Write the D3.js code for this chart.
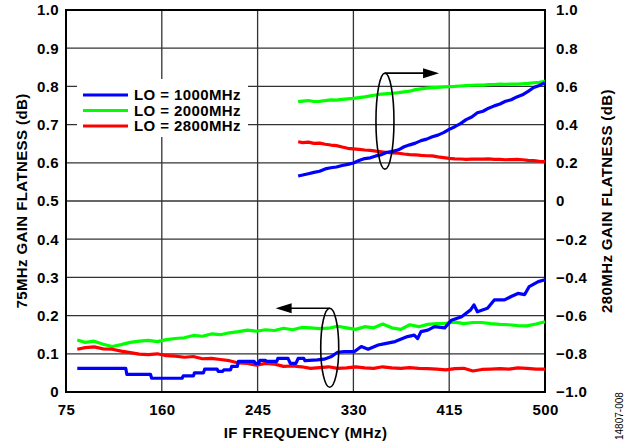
<!DOCTYPE html>
<html>
<head>
<meta charset="utf-8">
<script src="https://cdnjs.cloudflare.com/ajax/libs/d3/7.8.5/d3.min.js"></script>
<style>
  body { margin: 0; background: #fff; }
  svg text { font-family: "Liberation Sans", Arial, Helvetica, sans-serif; font-weight: bold; fill: #000; }
</style>
</head>
<body>
<div id="chart"></div>
<script>
// x ticks / labels
var xTicks = [75, 160, 245, 330, 415, 500];
var yLeftTicks = [0, 0.1, 0.2, 0.3, 0.4, 0.5, 0.6, 0.7, 0.8, 0.9, 1.0];
var yLeftLabels = ['0', '0.1', '0.2', '0.3', '0.4', '0.5', '0.6', '0.7', '0.8', '0.9', '1.0'];
var yRightTicks = [-1, -0.8, -0.6, -0.4, -0.2, 0, 0.2, 0.4, 0.6, 0.8, 1.0];
var yRightLabels = ['\u22121.0', '\u22120.8', '\u22120.6', '\u22120.4', '\u22120.2', '0', '0.2', '0.4', '0.6', '0.8', '1.0'];

var seriesNames = ['LO = 1000MHz', 'LO = 2000MHz', 'LO = 2800MHz'];
var seriesColors = ['#0000ff', '#00ff00', '#ff0000'];

// 75MHz flatness (left axis)
var freqLeft = [85, 92, 100, 108, 116, 124, 132, 140, 148, 156, 164, 172, 180, 188, 196, 204, 212, 220, 228, 236,
  244, 252, 260, 268, 276, 284, 292, 300, 308, 316, 324, 332, 340, 348, 356, 364, 372, 380, 388, 396,
  404, 412, 420, 428, 436, 444, 452, 460, 468, 476, 484, 492, 500];
var green75 = [0.136, 0.130, 0.133, 0.125, 0.119, 0.124, 0.130, 0.133, 0.135, 0.132, 0.137, 0.140, 0.142, 0.148, 0.146, 0.152, 0.150, 0.155, 0.158, 0.162,
  0.159, 0.163, 0.161, 0.167, 0.163, 0.169, 0.168, 0.166, 0.167, 0.172, 0.168, 0.164, 0.171, 0.168, 0.178, 0.168, 0.164, 0.176, 0.171, 0.177,
  0.179, 0.180, 0.183, 0.179, 0.182, 0.182, 0.179, 0.177, 0.176, 0.174, 0.173, 0.178, 0.184];
var red75 = [0.112, 0.116, 0.118, 0.113, 0.112, 0.107, 0.103, 0.099, 0.098, 0.100, 0.095, 0.094, 0.091, 0.093, 0.087, 0.088, 0.085, 0.082, 0.076, 0.075,
  0.070, 0.075, 0.073, 0.067, 0.068, 0.066, 0.062, 0.064, 0.066, 0.062, 0.063, 0.066, 0.063, 0.062, 0.066, 0.063, 0.062, 0.064, 0.062, 0.061,
  0.060, 0.058, 0.061, 0.062, 0.055, 0.059, 0.060, 0.061, 0.060, 0.063, 0.062, 0.060, 0.060];
// blue is step-like at the low end, so it has its own frequencies
var freqBlue75 = [85, 128, 129, 150, 151, 178, 179, 188, 189, 197, 198, 209, 210, 214, 215, 221, 222, 227, 228, 242,
  243, 246, 247, 252, 253, 262, 263, 272, 274, 279, 281, 286,
  287, 298, 304, 310, 316, 322, 331, 337, 343, 352, 357, 367, 378, 384, 387, 390, 396, 402,
  411, 417, 426, 434, 437, 440, 449, 455, 464, 470, 476, 482, 486, 494, 500];
var blue75 = [0.062, 0.062, 0.046, 0.046, 0.036, 0.036, 0.042, 0.042, 0.050, 0.050, 0.060, 0.060, 0.054, 0.054, 0.058, 0.058, 0.067, 0.067, 0.080, 0.080,
  0.075, 0.075, 0.083, 0.083, 0.080, 0.080, 0.088, 0.088, 0.075, 0.075, 0.088, 0.088,
  0.082, 0.084, 0.086, 0.092, 0.104, 0.106, 0.106, 0.119, 0.112, 0.123, 0.126, 0.132, 0.145, 0.149, 0.140, 0.158, 0.162, 0.171,
  0.168, 0.188, 0.197, 0.215, 0.228, 0.210, 0.219, 0.241, 0.241, 0.250, 0.258, 0.255, 0.276, 0.289, 0.294];

// 280MHz flatness (right axis)
var freqRight = [281, 285, 290, 295, 300, 305, 310, 315, 320, 325, 330, 335, 340, 345, 350,
  355, 360, 365, 370, 375, 380, 385, 390, 395, 400, 405, 410, 415, 420, 425,
  430, 435, 440, 445, 450, 455, 460, 465, 470, 475, 480, 485, 490, 495, 500];
var blue280 = [0.131, 0.136, 0.143, 0.150, 0.156, 0.168, 0.174, 0.178, 0.186, 0.192, 0.199, 0.212, 0.222, 0.226, 0.236,
  0.243, 0.255, 0.260, 0.268, 0.284, 0.294, 0.303, 0.316, 0.324, 0.336, 0.345, 0.358, 0.375, 0.389, 0.405,
  0.426, 0.440, 0.462, 0.470, 0.486, 0.498, 0.508, 0.522, 0.530, 0.545, 0.556, 0.574, 0.594, 0.605, 0.620];
var green280 = [0.520, 0.523, 0.526, 0.521, 0.522, 0.526, 0.529, 0.528, 0.532, 0.535, 0.537, 0.541, 0.545, 0.550, 0.555,
  0.560, 0.562, 0.564, 0.567, 0.571, 0.575, 0.583, 0.587, 0.591, 0.594, 0.595, 0.597, 0.599, 0.600, 0.602,
  0.604, 0.606, 0.607, 0.607, 0.609, 0.610, 0.612, 0.611, 0.612, 0.612, 0.614, 0.616, 0.619, 0.621, 0.626];
var red280 = [0.310, 0.306, 0.308, 0.302, 0.303, 0.297, 0.293, 0.290, 0.283, 0.276, 0.273, 0.270, 0.267, 0.265, 0.261,
  0.258, 0.254, 0.252, 0.250, 0.246, 0.243, 0.242, 0.239, 0.237, 0.236, 0.231, 0.227, 0.223, 0.221, 0.220,
  0.218, 0.219, 0.220, 0.219, 0.221, 0.218, 0.218, 0.216, 0.217, 0.218, 0.216, 0.213, 0.211, 0.208, 0.206];

var W = 631, H = 444;
// plot box (don't call these top/left: window.top is taken)
var pL = 66, pR = 545, pT = 10, pB = 392;

var svg = d3.select('#chart').append('svg')
  .attr('width', W)
  .attr('height', H);

var x = d3.scaleLinear().domain([75, 500]).range([pL, pR]);
var yL = d3.scaleLinear().domain([0, 1]).range([pB, pT]);
var yR = d3.scaleLinear().domain([-1, 1]).range([pB, pT]);

// grid
var grid = svg.append('g').attr('stroke', '#333').attr('stroke-width', 1.3);
grid.selectAll('line.v').data(xTicks).enter().append('line')
  .attr('x1', function (d) { return x(d); }).attr('x2', function (d) { return x(d); })
  .attr('y1', pT).attr('y2', pB);
grid.selectAll('line.h').data(yLeftTicks).enter().append('line')
  .attr('x1', pL).attr('x2', pR)
  .attr('y1', function (d) { return yL(d); }).attr('y2', function (d) { return yL(d); });

// legend box hides grid behind it
svg.append('rect').attr('x', 77).attr('y', 79).attr('width', 171).attr('height', 58).attr('fill', '#fff');

svg.append('rect')
  .attr('x', pL).attr('y', pT)
  .attr('width', pR - pL).attr('height', pB - pT)
  .attr('fill', 'none').attr('stroke', '#000').attr('stroke-width', 2);

// axes (labels only)
var fmtL = function (d, i) { return yLeftLabels[i]; };
var fmtR = function (d, i) { return yRightLabels[i]; };

var axL = svg.append('g').attr('transform', 'translate(' + pL + ',0)')
  .call(d3.axisLeft(yL).tickValues(yLeftTicks).tickFormat(fmtL).tickSize(0).tickPadding(7));
var axR = svg.append('g').attr('transform', 'translate(' + pR + ',0)')
  .call(d3.axisRight(yR).tickValues(yRightTicks).tickFormat(fmtR).tickSize(0).tickPadding(11));
var axX = svg.append('g').attr('transform', 'translate(0,' + pB + ')')
  .call(d3.axisBottom(x).tickValues(xTicks).tickFormat(d3.format('d')).tickSize(0).tickPadding(12));

[axL, axR, axX].forEach(function (a) {
  a.select('.domain').remove();
  a.selectAll('text')
    .style('font-family', '"Liberation Sans", Arial, sans-serif')
    .style('font-weight', 'bold')
    .style('font-size', '15px')
    .style('letter-spacing', '0.4px')
    .attr('fill', '#000');
});

// data lines
var lineL = function (xs) {
  return d3.line().x(function (d, i) { return x(xs[i]); }).y(function (d) { return yL(d); });
};
var lineR = d3.line().x(function (d, i) { return x(freqRight[i]); }).y(function (d) { return yR(d); });

var drawn = [
  { vals: green75, path: lineL(freqLeft), c: 1 },
  { vals: red75, path: lineL(freqLeft), c: 2 },
  { vals: blue75, path: lineL(freqBlue75), c: 0 },
  { vals: green280, path: lineR, c: 1 },
  { vals: red280, path: lineR, c: 2 },
  { vals: blue280, path: lineR, c: 0 }
];
drawn.forEach(function (s) {
  svg.append('path')
    .attr('d', s.path(s.vals))
    .attr('fill', 'none')
    .attr('stroke', seriesColors[s.c])
    .attr('stroke-width', 3.2)
    .attr('stroke-linejoin', 'round');
});

// ellipse + arrow annotations
function annot(cx, cy, ry, tipX, dir) {
  var ax = x(cx), ay = yL(cy), topY = ay - ry;
  svg.append('ellipse')
    .attr('cx', ax).attr('cy', ay).attr('rx', 9).attr('ry', ry)
    .attr('fill', 'none').attr('stroke', '#000').attr('stroke-width', 1.6);
  var tx = x(tipX);
  svg.append('line')
    .attr('x1', ax).attr('y1', topY).attr('x2', tx - dir * 14).attr('y2', topY)
    .attr('stroke', '#000').attr('stroke-width', 1.6);
  svg.append('path')
    .attr('d', 'M' + tx + ',' + topY + 'L' + (tx - dir * 16) + ',' + (topY - 5) + 'L' + (tx - dir * 16) + ',' + (topY + 5) + 'Z')
    .attr('fill', '#000');
}
annot(358, 0.709, 48, 406, 1);
annot(309, 0.116, 39.5, 261, -1);

// legend
var leg = svg.append('g');
seriesNames.forEach(function (name, i) {
  var ly = 95 + i * 15.5;
  leg.append('line').attr('x1', 83).attr('x2', 128).attr('y1', ly).attr('y2', ly)
    .attr('stroke', seriesColors[i]).attr('stroke-width', 3);
  leg.append('text').attr('x', 134).attr('y', ly + 5)
    .style('font-size', '15px').style('letter-spacing', '0.4px')
    .text(name);
});

// axis titles
svg.append('text')
  .attr('x', (pL + pR) / 2).attr('y', 438)
  .attr('text-anchor', 'middle')
  .style('font-size', '15px').style('letter-spacing', '0.4px')
  .text('IF FREQUENCY (MHz)');
svg.append('text')
  .attr('transform', 'translate(27,' + ((pT + pB) / 2) + ') rotate(-90)')
  .attr('text-anchor', 'middle')
  .style('font-size', '15px').style('letter-spacing', '0.4px')
  .text('75MHz GAIN FLATNESS (dB)');
svg.append('text')
  .attr('transform', 'translate(612,' + ((pT + pB) / 2) + ') rotate(-90)')
  .attr('text-anchor', 'middle')
  .style('font-size', '15px').style('letter-spacing', '0.4px')
  .text('280MHz GAIN FLATNESS (dB)');
svg.append('text')
  .attr('transform', 'translate(623,440) rotate(-90)')
  .attr('text-anchor', 'start')
  .style('font-size', '10px').style('font-weight', 'normal')
  .text('14807-008');
</script>
</body>
</html>
